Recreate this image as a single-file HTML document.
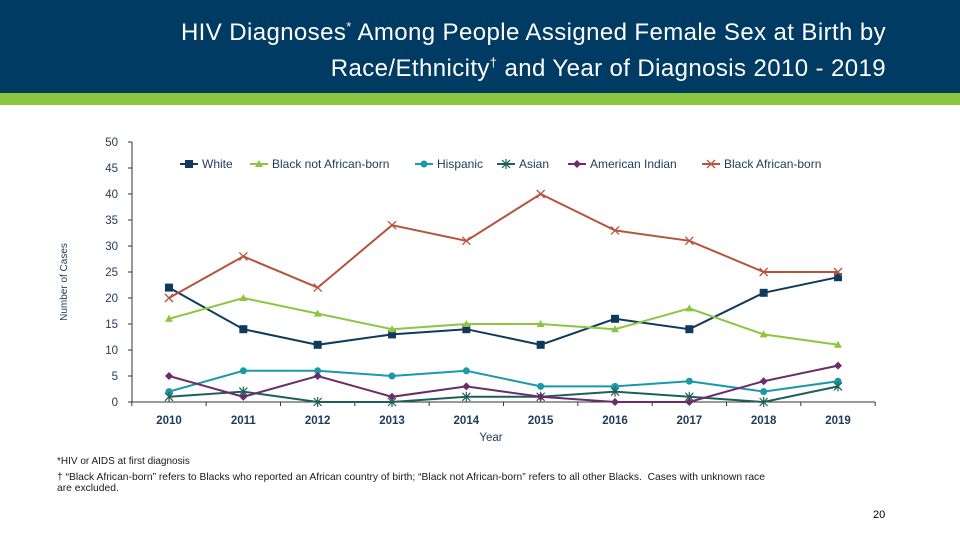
<!DOCTYPE html>
<html><head><meta charset="utf-8"><style>
body{margin:0;width:960px;height:540px;background:#fff;font-family:"Liberation Sans",sans-serif;overflow:hidden;position:relative}
#hdr{position:absolute;left:0;top:0;width:960px;height:93px;background:#003b64}
#strip{position:absolute;left:0;top:93px;width:960px;height:12px;background:#8cc63e}
#title{position:absolute;right:74px;top:15px;color:#fff;font-size:24px;letter-spacing:0.4px;line-height:36px;text-align:right;white-space:nowrap}
#title sup{font-size:13px;line-height:0}
.fn{position:absolute;left:57px;font-size:10px;color:#1a1a1a}
</style></head><body>
<div id="hdr"></div>
<div id="strip"></div>
<div id="title">HIV Diagnoses<sup>*</sup> Among People Assigned Female Sex at Birth by<br>Race/Ethnicity<sup>†</sup> and Year of Diagnosis 2010 - 2019</div>
<svg id="chart" width="960" height="540" style="position:absolute;left:0;top:0"></svg>
<div class="fn" style="top:456px">*HIV or AIDS at first diagnosis</div>
<div class="fn" style="top:472px;width:780px;line-height:11px;font-size:10.3px;white-space:nowrap">† “Black African-born” refers to Blacks who reported an African country of birth; “Black not African-born” refers to all other Blacks.&nbsp; Cases with unknown race<br>are excluded.</div>
<div style="position:absolute;left:873px;top:509px;font-size:11px">20</div>
<script>
const years=[2010,2011,2012,2013,2014,2015,2016,2017,2018,2019];
const yTicks=[0,5,10,15,20,25,30,35,40,45,50];
const white=[22,14,11,13,14,11,16,14,21,24];
const blackNotAfrican=[16,20,17,14,15,15,14,18,13,11];
const hispanic=[2,6,6,5,6,3,3,4,2,4];
const asian=[1,2,0,0,1,1,2,1,0,3];
const americanIndian=[5,1,5,1,3,1,0,0,4,7];
const blackAfrican=[20,28,22,34,31,40,33,31,25,25];
const seriesNames=["White","Black not African-born","Hispanic","Asian","American Indian","Black African-born"];
const NS="http://www.w3.org/2000/svg";
const svg=document.getElementById('chart');
const x=i=>169+i*(838-169)/9;
const y=v=>402-v*5.2;
function mk(t,a,p){const e=document.createElementNS(NS,t);for(const k in a)e.setAttribute(k,a[k]);(p||svg).appendChild(e);return e;}
let ax=mk('line',{x1:132,y1:142,x2:132,y2:402,stroke:'#333','stroke-width':1});


let bx=mk('line',{x1:132,y1:402,x2:875,y2:402,stroke:'#333','stroke-width':1});


yTicks.forEach(v=>{
 mk('line',{x1:128,y1:y(v),x2:132,y2:y(v),stroke:'#333'});
 const t=mk('text',{x:118,y:y(v)+4,'text-anchor':'end','font-size':11.5,fill:'#1f3b5a'});t.textContent=v;
 
 
});
for(let i=0;i<=10;i++){const xx=x(i)-(838-169)/18;mk('line',{x1:xx,y1:402,x2:xx,y2:406,stroke:'#333'});}
years.forEach((yr,i)=>{const t=mk('text',{x:x(i),y:424,'text-anchor':'middle','font-size':11.5,'font-weight':'bold',fill:'#1f3b5a'});t.textContent=yr;
 
 });
let xt=mk('text',{x:491,y:441,'text-anchor':'middle','font-size':11.5,fill:'#1f3b5a'});xt.textContent='Year';


let yt=mk('text',{x:67,y:282,'text-anchor':'middle','font-size':10,fill:'#1f3b5a',transform:'rotate(-90 67 282)'});yt.textContent='Number of Cases';


function marker(type,cx,cy,col,g){
 if(type==='sq')mk('rect',{x:cx-4,y:cy-4,width:8,height:8,fill:col},g);
 else if(type==='tri')mk('polygon',{points:`${cx},${cy-4} ${cx+4},${cy+3} ${cx-4},${cy+3}`,fill:col},g);
 else if(type==='circ')mk('circle',{cx,cy,r:3.5,fill:col},g);
 else if(type==='dia')mk('polygon',{points:`${cx},${cy-4} ${cx+4},${cy} ${cx},${cy+4} ${cx-4},${cy}`,fill:col},g);
 else if(type==='x')mk('path',{d:`M${cx-4} ${cy-4}L${cx+4} ${cy+4}M${cx-4} ${cy+4}L${cx+4} ${cy-4}`,stroke:col,'stroke-width':1.3,fill:'none'},g);
 else if(type==='ast')mk('path',{d:`M${cx-4} ${cy-4}L${cx+4} ${cy+4}M${cx-4} ${cy+4}L${cx+4} ${cy-4}M${cx} ${cy-5}L${cx} ${cy+5}`,stroke:col,'stroke-width':1.2,fill:'none'},g);
}
const series=[[white,'#0f3a5e','sq'],[blackNotAfrican,'#8cc63e','tri'],[hispanic,'#1a99aa','circ'],[asian,'#1f5f5a','ast'],[americanIndian,'#6b2c6b','dia'],[blackAfrican,'#b5543a','x']];
const keys=['white','black-not-african-born','hispanic','asian','american-indian','black-african-born'];
series.forEach(([d,col,m],si)=>{
 const g=mk('g',{});
 
 
 mk('polyline',{points:d.map((v,i)=>x(i)+','+y(v)).join(' '),fill:'none',stroke:col,'stroke-width':2},g);
 d.forEach((v,i)=>marker(m,x(i),y(v),col,g));
});
const legX=[180,250,415,497,568,702];
series.forEach(([d,col,m],si)=>{
 const g=mk('g',{});
 
 
 const lx=legX[si];
 mk('line',{x1:lx,y1:164,x2:lx+18,y2:164,stroke:col,'stroke-width':2},g);
 marker(m,lx+9,164,col,g);
 const t=mk('text',{x:lx+22,y:168,'font-size':12,fill:'#1f3b5a'},g);t.textContent=seriesNames[si];
});
</script>
</body></html>
